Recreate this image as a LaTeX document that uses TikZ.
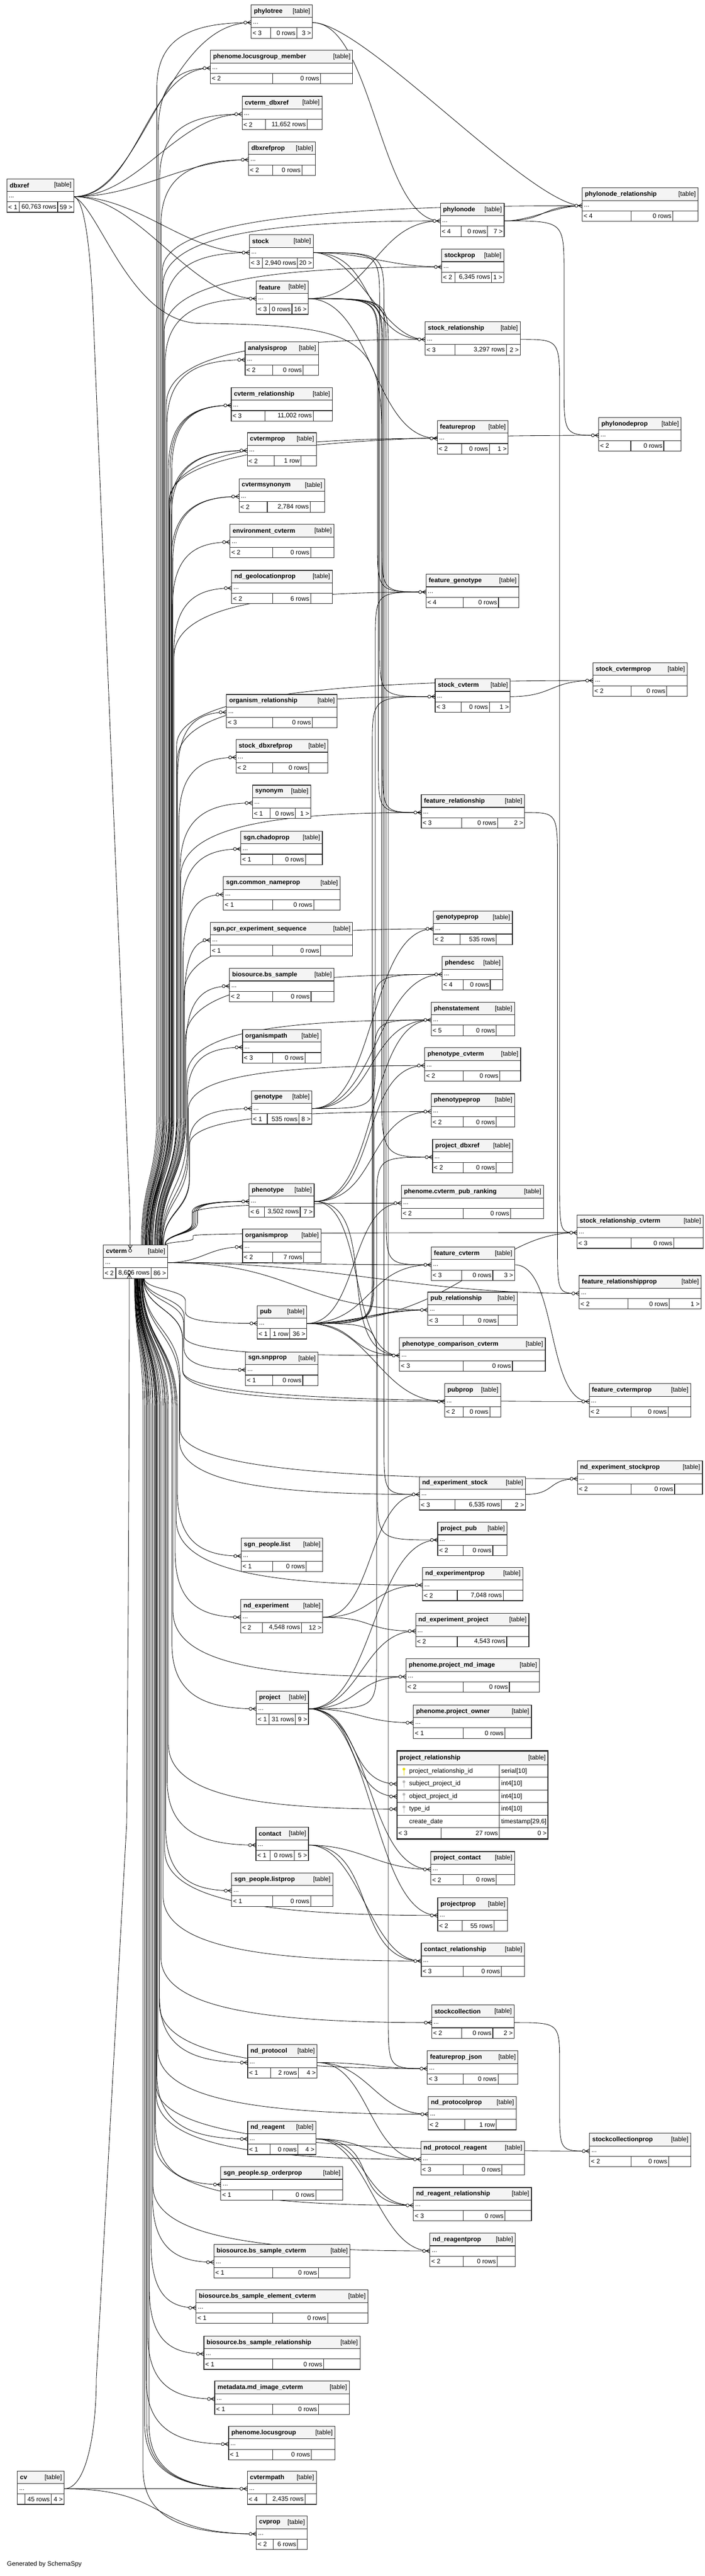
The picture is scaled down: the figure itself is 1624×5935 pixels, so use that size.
\documentclass[tikz,border=0pt]{standalone}
\usepackage{fontspec}
\setmainfont{Liberation Sans}
\usetikzlibrary{calc}
\definecolor{headgray}{HTML}{F4F4F4}
\definecolor{pkyellow}{HTML}{E6DC00}
\definecolor{fkgray}{HTML}{B8B8B8}
\pgfdeclarelayer{background}
\pgfdeclarelayer{edges}
\pgfsetlayers{background,edges,main}
\tikzset{
  fkline/.style={draw=black, line width=0.75pt},
  tblbox/.style={draw=black!85, line width=1pt},
  tbltitle/.style={anchor=west, inner sep=0pt, font=\fontsize{11}{13}\selectfont\bfseries},
  tbltag/.style={anchor=east, inner sep=0pt, font=\fontsize{11}{13}\selectfont},
  tbltext/.style={anchor=west, inner sep=0pt, font=\fontsize{11}{13}\selectfont},
  crowfoot/.pic={
    \draw[fkline] (-17,0) -- (0,0) (-9,0) -- (0,-5) (-9,0) -- (0,5);
    \filldraw[fkline, fill=white] (-13.5,0) circle (3.5);
  },
  crowdown/.pic={
    \draw[fkline] (0,-17) -- (0,0) (0,-9) -- (-5,0) (0,-9) -- (5,0);
    \filldraw[fkline, fill=white] (0,-13.5) circle (3.5);
  },
  crowup/.pic={
    \draw[fkline] (0,17) -- (0,0) (0,9) -- (-5,0) (0,9) -- (5,0);
    \filldraw[fkline, fill=white] (0,13.5) circle (3.5);
  },
}
% table box: id, left, top, right, title, first split, second split, {footer cells}
\newcommand\dbtable[8]{%
  \def\tbid{#1}\def\tbx{#2}\def\tby{#3}\def\tbr{#4}\def\tbt{#7}%
  \filldraw[tblbox, fill=headgray] (#2,#3) rectangle (#4,{#3+29});
  \filldraw[tblbox, fill=white] (#2,{#3+29}) rectangle (#4,{#3+53});
  \filldraw[tblbox, fill=white] (#2,{#3+53}) rectangle (#4,{#3+77});
  \draw[tblbox] (#6,{#3+53}) -- (#6,{#3+77}) (#7,{#3+53}) -- (#7,{#3+77});
  \node[tbltitle] (#1) at ({#2+6},{#3+15}) {#5};
  \node[tbltag] (#1-tag) at ({#4-5},{#3+15}) {[table]};
  \node[tbltext] (#1-cols) at ({#2+4},{#3+43}) {...};
  \coordinate (#1-in) at (#2,{#3+41});
  \coordinate (#1-out) at (#4,{#3+41});
  \dbfoot#8%
}
\newcommand\dbfoot[3]{%
  \node[tbltext] (\tbid-lt) at ({\tbx+3},{\tby+65}) {#1};
  \node[tbltext, anchor=east] (\tbid-rows) at ({\tbt-3},{\tby+65}) {#2};
  \node[tbltext, anchor=east] (\tbid-gt) at ({\tbr-3},{\tby+65}) {#3};
}
% connector that runs down (or up) a free lane: parent, child, lane x, parent y, child y
\newcommand\route[5]{%
  \pgfmathsetmacro\rs{(#5>#4) ? 1 : -1}%
  \pgfmathsetmacro\rd{min(120,abs(#5-#4)/3)}%
  \draw[fkline] (#1-out) .. controls (#3,#4) and (#3,#4) .. (#3,{#4+\rs*\rd}) -- (#3,{#5-\rs*\rd}) .. controls (#3,#5) and (#3,#5) .. (#2-in);
}
\begin{document}
\begin{tikzpicture}[x=0.75pt,y=0.75pt,yscale=-1,xscale=1]
\useasboundingbox (0,0) rectangle (1624,5935);
\begin{pgfonlayer}{background}
\fill[white] (0,0) rectangle (1624,5935);
\end{pgfonlayer}

% Tables
\dbtable{phylotree}{579}{11}{720}{phylotree}{624}{684}{{< 3}{0 rows}{3 >}}
\dbtable{locusgroupmember}{485}{116}{813}{phenome.locusgroup\_member}{629}{739}{{< 2}{0 rows}{}}
\dbtable{cvtermdbxref}{558}{222}{742}{cvterm\_dbxref}{612}{708}{{< 2}{11,652 rows}{}}
\dbtable{dbxrefprop}{573}{327}{727}{dbxrefprop}{629}{696}{{< 2}{0 rows}{}}
\dbtable{dbxref}{16}{412}{170}{dbxref}{45}{133}{{< 1}{60,763 rows}{59 >}}
\dbtable{phylonoderel}{1342}{433}{1609}{phylonode\_relationship}{1455}{1551}{{< 4}{0 rows}{}}
\dbtable{phylonode}{1015}{468}{1162}{phylonode}{1063}{1124}{{< 4}{0 rows}{7 >}}
\dbtable{stock}{575}{541}{722}{stock}{605}{686}{{< 3}{2,940 rows}{20 >}}
\dbtable{stockprop}{1018}{574}{1161}{stockprop}{1049}{1133}{{< 2}{6,345 rows}{1 >}}
\dbtable{feature}{591}{647}{710}{feature}{621}{673}{{< 3}{0 rows}{16 >}}
\dbtable{stockrel}{980}{741}{1199}{stock\_relationship}{1049}{1167}{{< 3}{3,297 rows}{2 >}}
\dbtable{analysisprop}{565}{788}{734}{analysisprop}{629}{699}{{< 2}{0 rows}{}}
\dbtable{cvtermrel}{533}{893}{766}{cvterm\_relationship}{611}{722}{{< 3}{11,002 rows}{}}
\dbtable{featureprop}{1008}{969}{1171}{featureprop}{1064}{1128}{{< 2}{0 rows}{1 >}}
\dbtable{phylonodeprop}{1380}{962}{1570}{phylonodeprop}{1454}{1530}{{< 2}{0 rows}{}}
\dbtable{cvtermprop}{570}{997}{729}{cvtermprop}{632}{694}{{< 2}{1 row}{}}
\dbtable{cvtermsynonym}{551}{1103}{748}{cvtermsynonym}{616}{715}{{< 2}{2,784 rows}{}}
\dbtable{envcvterm}{530}{1208}{770}{environment\_cvterm}{629}{716}{{< 2}{0 rows}{}}
\dbtable{ndgeolocprop}{534}{1314}{766}{nd\_geolocationprop}{629}{716}{{< 2}{6 rows}{}}
\dbtable{featgenotype}{982}{1323}{1196}{feature\_genotype}{1068}{1149}{{< 4}{0 rows}{}}
\dbtable{stockcvtermprop}{1367}{1527}{1584}{stock\_cvtermprop}{1455}{1537}{{< 2}{0 rows}{}}
\dbtable{stockcvterm}{1003}{1564}{1176}{stock\_cvterm}{1063}{1128}{{< 3}{0 rows}{1 >}}
\dbtable{organismrel}{522}{1600}{777}{organism\_relationship}{629}{720}{{< 3}{0 rows}{}}
\dbtable{stockdbxrefprop}{544}{1704}{756}{stock\_dbxrefprop}{629}{712}{{< 2}{0 rows}{}}
\dbtable{synonym}{582}{1809}{716}{synonym}{623}{681}{{< 1}{0 rows}{1 >}}
\dbtable{featurerel}{971}{1831}{1209}{feature\_relationship}{1064}{1147}{{< 3}{0 rows}{2 >}}
\dbtable{chadoprop}{555}{1915}{743}{sgn.chadoprop}{629}{704}{{< 1}{0 rows}{}}
\dbtable{commonnameprop}{515}{2020}{784}{sgn.common\_nameprop}{629}{723}{{< 1}{0 rows}{}}
\dbtable{genotypeprop}{999}{2099}{1181}{genotypeprop}{1061}{1144}{{< 2}{535 rows}{}}
\dbtable{pcrexpseq}{485}{2125}{813}{sgn.pcr\_experiment\_sequence}{629}{739}{{< 1}{0 rows}{}}
\dbtable{phendesc}{1019}{2204}{1159}{phendesc}{1068}{1130}{{< 4}{0 rows}{}}
\dbtable{bssample}{529}{2231}{770}{biosource.bs\_sample}{629}{717}{{< 2}{0 rows}{}}
\dbtable{phenstatement}{994}{2309}{1186}{phenstatement}{1068}{1144}{{< 5}{0 rows}{}}
\dbtable{organismpath}{559}{2372}{740}{organismpath}{629}{703}{{< 3}{0 rows}{}}
\dbtable{phenotypecvterm}{979}{2414}{1200}{phenotype\_cvterm}{1068}{1152}{{< 2}{0 rows}{}}
\dbtable{genotype}{580}{2513}{719}{genotype}{616}{689}{{< 1}{535 rows}{8 >}}
\dbtable{phenotypeprop}{994}{2520}{1186}{phenotypeprop}{1068}{1144}{{< 2}{0 rows}{}}
\dbtable{projectdbxref}{997}{2625}{1182}{project\_dbxref}{1068}{1144}{{< 2}{0 rows}{}}
\dbtable{phenotype}{574}{2727}{724}{phenotype}{609}{692}{{< 6}{3,502 rows}{7 >}}
\dbtable{cvtermpubranking}{925}{2731}{1253}{phenome.cvterm\_pub\_ranking}{1068}{1177}{{< 2}{0 rows}{}}
\dbtable{stockrelcvterm}{1330}{2799}{1621}{stock\_relationship\_cvterm}{1455}{1553}{{< 3}{0 rows}{}}
\dbtable{organismprop}{559}{2832}{740}{organismprop}{629}{700}{{< 2}{7 rows}{}}
\dbtable{cvterm}{238}{2868}{386}{cvterm}{267}{348}{{< 2}{8,626 rows}{86 >}}
\dbtable{featurecvterm}{994}{2873}{1186}{feature\_cvterm}{1064}{1136}{{< 3}{0 rows}{3 >}}
\dbtable{featurerelprop}{1335}{2939}{1616}{feature\_relationshipprop}{1448}{1543}{{< 2}{0 rows}{1 >}}
\dbtable{pubrel}{986}{2977}{1192}{pub\_relationship}{1068}{1148}{{< 3}{0 rows}{}}
\dbtable{pub}{593}{3008}{707}{pub}{623}{668}{{< 1}{1 row}{36 >}}
\dbtable{phenocompcvterm}{921}{3082}{1257}{phenotype\_comparison\_cvterm}{1068}{1181}{{< 3}{0 rows}{}}
\dbtable{snpprop}{566}{3115}{733}{sgn.snpprop}{629}{698}{{< 1}{0 rows}{}}
\dbtable{pubprop}{1025}{3188}{1154}{pubprop}{1068}{1129}{{< 2}{0 rows}{}}
\dbtable{featurecvtermprop}{1358}{3188}{1592}{feature\_cvtermprop}{1455}{1540}{{< 2}{0 rows}{}}
\dbtable{ndexpstockprop}{1331}{3366}{1619}{nd\_experiment\_stockprop}{1455}{1555}{{< 2}{0 rows}{}}
\dbtable{ndexpstock}{967}{3402}{1211}{nd\_experiment\_stock}{1049}{1156}{{< 3}{6,535 rows}{2 >}}
\dbtable{projectpub}{1009}{3507}{1169}{project\_pub}{1068}{1136}{{< 2}{0 rows}{}}
\dbtable{peoplelist}{556}{3544}{744}{sgn\_people.list}{629}{706}{{< 1}{0 rows}{}}
\dbtable{ndexpprop}{974}{3611}{1205}{nd\_experimentprop}{1054}{1160}{{< 2}{7,048 rows}{}}
\dbtable{ndexperiment}{555}{3685}{744}{nd\_experiment}{605}{695}{{< 2}{4,548 rows}{12 >}}
\dbtable{ndexpproject}{958}{3717}{1219}{nd\_experiment\_project}{1054}{1168}{{< 2}{4,543 rows}{}}
\dbtable{projectmdimage}{936}{3822}{1243}{phenome.project\_md\_image}{1068}{1174}{{< 2}{0 rows}{}}
\dbtable{project}{591}{3896}{711}{project}{620}{681}{{< 1}{31 rows}{9 >}}
\dbtable{projectowner}{953}{3928}{1225}{phenome.project\_owner}{1068}{1164}{{< 1}{0 rows}{}}
\dbtable{contact}{590}{4210}{711}{contact}{623}{678}{{< 1}{0 rows}{5 >}}
\dbtable{projectcontact}{993}{4266}{1186}{project\_contact}{1068}{1144}{{< 2}{0 rows}{}}
\dbtable{listprop}{534}{4315}{767}{sgn\_people.listprop}{629}{716}{{< 1}{0 rows}{}}
\dbtable{projectprop}{1009}{4372}{1170}{projectprop}{1065}{1139}{{< 2}{55 rows}{}}
\dbtable{contactrel}{971}{4477}{1209}{contact\_relationship}{1068}{1156}{{< 3}{0 rows}{}}
\dbtable{stockcollection}{995}{4619}{1185}{stockcollection}{1064}{1136}{{< 2}{0 rows}{2 >}}
\dbtable{ndprotocol}{571}{4711}{731}{nd\_protocol}{624}{688}{{< 1}{2 rows}{4 >}}
\dbtable{featurepropjson}{985}{4725}{1194}{featureprop\_json}{1068}{1148}{{< 3}{0 rows}{}}
\dbtable{ndprotocolprop}{987}{4830}{1190}{nd\_protocolprop}{1071}{1144}{{< 2}{1 row}{}}
\dbtable{ndreagent}{571}{4887}{728}{nd\_reagent}{623}{687}{{< 1}{0 rows}{4 >}}
\dbtable{stockcollectionprop}{1359}{4915}{1592}{stockcollectionprop}{1455}{1541}{{< 2}{0 rows}{}}
\dbtable{ndprotocolreagent}{970}{4934}{1209}{nd\_protocol\_reagent}{1068}{1157}{{< 3}{0 rows}{}}
\dbtable{sporderprop}{509}{4992}{790}{sgn\_people.sp\_orderprop}{629}{728}{{< 1}{0 rows}{}}
\dbtable{ndreagentrel}{953}{5040}{1225}{nd\_reagent\_relationship}{1068}{1164}{{< 3}{0 rows}{}}
\dbtable{ndreagentprop}{991}{5145}{1188}{nd\_reagentprop}{1068}{1146}{{< 2}{0 rows}{}}
\dbtable{bssamplecvterm}{493}{5171}{807}{biosource.bs\_sample\_cvterm}{629}{734}{{< 1}{0 rows}{}}
\dbtable{bssampleelemcvterm}{452}{5276}{848}{biosource.bs\_sample\_element\_cvterm}{629}{755}{{< 1}{0 rows}{}}
\dbtable{bssamplerel}{470}{5382}{830}{biosource.bs\_sample\_relationship}{629}{746}{{< 1}{0 rows}{}}
\dbtable{mdimagecvterm}{495}{5486}{805}{metadata.md\_image\_cvterm}{629}{734}{{< 1}{0 rows}{}}
\dbtable{locusgroup}{527}{5590}{772}{phenome.locusgroup}{629}{718}{{< 1}{0 rows}{}}
\dbtable{cv}{40}{5693}{148}{cv}{58}{118}{{}{45 rows}{4 >}}
\dbtable{cvtermpath}{570}{5693}{729}{cvtermpath}{614}{703}{{< 4}{2,435 rows}{}}
\dbtable{cvprop}{591}{5797}{708}{cvprop}{630}{686}{{< 2}{6 rows}{}}

% project_relationship is shown with its columns
\filldraw[tblbox, fill=headgray] (915,4034) rectangle (1263,4066);
\node[tbltitle] (projectrel) at (921,4050) {project\_relationship};
\node[tbltag] (projectrel-tag) at (1258,4050) {[table]};
\foreach \col/\typ [count=\i from 0] in {project\_relationship\_id/serial[10], subject\_project\_id/int4[10], object\_project\_id/int4[10], type\_id/int4[10], create\_date/{timestamp[29,6]}}{
  \filldraw[tblbox, fill=white] (915,{4066+29*\i}) rectangle (1151,{4095+29*\i});
  \filldraw[tblbox, fill=white] (1151,{4066+29*\i}) rectangle (1263,{4095+29*\i});
  \node[tbltext] (prcol-\i) at (943,{4081+29*\i}) {\col};
  \node[tbltext] (prtyp-\i) at (1155,{4081+29*\i}) {\typ};
}
\fill[pkyellow] (931,4076) circle (3.2);
\draw[pkyellow, line width=1.4pt] (931,4076) -- (931,4090);
\foreach \i in {1,2,3}{
  \fill[fkgray] (931,{4076+29*\i}) circle (3.2);
  \draw[fkgray, line width=1.4pt] (931,{4076+29*\i}) -- (931,{4090+29*\i});
}
\filldraw[tblbox, fill=white] (915,4211) rectangle (1263,4237);
\draw[tblbox] (1017,4211) -- (1017,4237) (1151,4211) -- (1151,4237);
\node[tbltext] (projectrel-lt) at (918,4224) {< 3};
\node[tbltext, anchor=east] (projectrel-rows) at (1148,4224) {27 rows};
\node[tbltext, anchor=east] (projectrel-gt) at (1260,4224) {0 >};
\draw[black!85, line width=2pt] (915,4034) rectangle (1263,4237);
\coordinate (projrelsubj-in) at (915,4110);
\coordinate (projrelobj-in) at (915,4139);
\coordinate (prtype-in) at (915,4168);

% Text Node
\node[tbltext] (credit) at (16,5908) {Generated by SchemaSpy};

% ends of the cvterm bundles
\coordinate (cvterm-top) at (312,2868);
\coordinate (cvterm-bot) at (312,2945);
\coordinate (cvterm-dbx) at (300,2868);
\coordinate (cvterm-cv) at (298,2945);

% crow feet on the child side
\foreach \t in {phylotree,locusgroupmember,cvtermdbxref,dbxrefprop,phylonoderel,phylonode,stock,stockprop,feature,stockrel,analysisprop,cvtermrel,featureprop,phylonodeprop,cvtermprop,cvtermsynonym,envcvterm,ndgeolocprop,featgenotype,stockcvtermprop,stockcvterm,organismrel,stockdbxrefprop,synonym,featurerel,chadoprop,commonnameprop,genotypeprop,pcrexpseq,phendesc,bssample,phenstatement,organismpath,phenotypecvterm,genotype,phenotypeprop,projectdbxref,phenotype,cvtermpubranking,stockrelcvterm,organismprop,featurecvterm,featurerelprop,pubrel,pub,phenocompcvterm,snpprop,pubprop,featurecvtermprop,ndexpstockprop,ndexpstock,projectpub,peoplelist,ndexpprop,ndexperiment,ndexpproject,projectmdimage,project,projectowner,contact,projectcontact,listprop,projectprop,contactrel,stockcollection,ndprotocol,featurepropjson,ndprotocolprop,ndreagent,stockcollectionprop,ndprotocolreagent,sporderprop,ndreagentrel,ndreagentprop,bssamplecvterm,bssampleelemcvterm,bssamplerel,mdimagecvterm,locusgroup,cvtermpath,cvprop,projrelsubj,projrelobj,prtype}
  \pic at (\t-in) {crowfoot};
\pic at (cvterm-dbx) {crowdown};
\pic at (cvterm-cv) {crowup};

\begin{pgfonlayer}{edges}
% Curve Lines: dbxref
\draw[fkline] (dbxref-out) .. controls +(160,0) and +(-200,0) .. (phylotree-in);
\draw[fkline] (dbxref-out) .. controls +(150,0) and +(-150,0) .. (locusgroupmember-in);
\draw[fkline] (dbxref-out) .. controls +(150,0) and +(-150,0) .. (cvtermdbxref-in);
\draw[fkline] (dbxref-out) .. controls +(150,0) and +(-150,0) .. (dbxrefprop-in);
\draw[fkline] (dbxref-out) .. controls +(150,0) and +(-150,0) .. (stock-in);
\draw[fkline] (dbxref-out) .. controls +(150,0) and +(-150,0) .. (feature-in);
\draw[fkline] (dbxref-out) .. controls (200,460) and (212,620) .. (217,780) -- (299,2780) .. controls (300,2820) and (300,2840) .. (cvterm-dbx);
\draw[fkline] (dbxref-out) .. controls (230,480) and (300,742) .. (460,745) .. controls (820,750) and (880,770) .. (880,1000) -- (880,2546) .. controls (880,2666) and (900,2666) .. (projectdbxref-in);
% Curve Lines: phylotree, phylonode
\draw[fkline] (phylotree-out) .. controls +(140,0) and +(-140,0) .. (phylonode-in);
\draw[fkline] (phylotree-out) .. controls +(120,0) and +(-120,0) .. (phylonoderel-in);
\draw[fkline] (phylonode-out) .. controls +(60,0) and +(-60,0) .. (phylonoderel-in);
\draw[fkline] (phylonode-out) .. controls +(100,0) and +(-100,0) .. (phylonoderel-in);
\route{phylonode}{phylonodeprop}{1300}{509}{1003}
% Curve Lines: stock
\draw[fkline] (stock-out) .. controls +(120,0) and +(-120,0) .. (stockprop-in);
\draw[fkline] (stock-out) .. controls +(100,0) and +(-100,0) .. (stockrel-in);
\draw[fkline] (stock-out) .. controls +(150,0) and +(-150,0) .. (stockrel-in);
\route{stock}{stockcvterm}{875}{582}{1605}
\route{stock}{ndexpstock}{885}{582}{3443}
% Curve Lines: feature
\draw[fkline] (feature-out) .. controls +(150,0) and +(-150,0) .. (phylonode-in);
\draw[fkline] (feature-out) .. controls +(150,0) and +(-150,0) .. (featureprop-in);
\route{feature}{featgenotype}{870}{688}{1364}
\route{feature}{featgenotype}{880}{688}{1364}
\route{feature}{featurerel}{872}{688}{1872}
\route{feature}{featurerel}{882}{688}{1872}
\route{feature}{featurecvterm}{890}{688}{2914}
\route{feature}{featurepropjson}{895}{688}{4766}
% Curve Lines: right hand tables
\route{stockrel}{stockrelcvterm}{1290}{782}{2840}
\draw[fkline] (stockcvterm-out) .. controls +(100,0) and +(-100,0) .. (stockcvtermprop-in);
\route{featurerel}{featurerelprop}{1285}{1872}{2980}
\draw[fkline] (featurecvterm-out) .. controls +(100,0) and +(-100,0) .. (featurecvtermprop-in);
\draw[fkline] (ndexpstock-out) .. controls +(70,0) and +(-70,0) .. (ndexpstockprop-in);
\route{stockcollection}{stockcollectionprop}{1290}{4660}{4956}
% Curve Lines: genotype, phenotype
\draw[fkline] (genotype-out) .. controls +(150,0) and +(-150,0) .. (genotypeprop-in);
\draw[fkline] (genotype-out) .. controls +(150,0) and +(-150,0) .. (phendesc-in);
\draw[fkline] (genotype-out) .. controls +(150,0) and +(-150,0) .. (phenstatement-in);
\route{genotype}{featgenotype}{865}{2554}{1364}
\draw[fkline] (phenotype-out) .. controls +(150,0) and +(-150,0) .. (phenstatement-in);
\draw[fkline] (phenotype-out) .. controls +(150,0) and +(-150,0) .. (phenotypecvterm-in);
\draw[fkline] (phenotype-out) .. controls +(150,0) and +(-150,0) .. (phenotypeprop-in);
\draw[fkline] (phenotype-out) .. controls +(120,0) and +(-120,0) .. (phenocompcvterm-in);
\draw[fkline] (phenotype-out) .. controls +(160,0) and +(-160,0) .. (phenocompcvterm-in);
% Curve Lines: pub
\route{pub}{stockcvterm}{858}{3049}{1605}
\route{pub}{phendesc}{860}{3049}{2245}
\route{pub}{phenstatement}{862}{3049}{2350}
\draw[fkline] (pub-out) .. controls +(120,0) and +(-120,0) .. (cvtermpubranking-in);
\draw[fkline] (pub-out) .. controls +(150,0) and +(-150,0) .. (featurecvterm-in);
\draw[fkline] (pub-out) .. controls +(100,0) and +(-100,0) .. (pubrel-in);
\draw[fkline] (pub-out) .. controls +(140,0) and +(-140,0) .. (pubrel-in);
\draw[fkline] (pub-out) .. controls +(120,0) and +(-120,0) .. (phenocompcvterm-in);
\draw[fkline] (pub-out) .. controls +(150,0) and +(-150,0) .. (pubprop-in);
\draw[fkline] (pub-out) .. controls +(350,0) and +(-200,0) .. (stockrelcvterm-in);
\route{pub}{projectpub}{870}{3049}{3548}
% Curve Lines: nd_experiment, project, contact
\draw[fkline] (ndexperiment-out) .. controls +(120,0) and +(-120,0) .. (ndexpstock-in);
\draw[fkline] (ndexperiment-out) .. controls +(120,0) and +(-120,0) .. (ndexpprop-in);
\draw[fkline] (ndexperiment-out) .. controls +(120,0) and +(-120,0) .. (ndexpproject-in);
\route{project}{projectdbxref}{868}{3937}{2666}
\draw[fkline] (project-out) .. controls +(150,0) and +(-150,0) .. (projectpub-in);
\draw[fkline] (project-out) .. controls +(120,0) and +(-120,0) .. (ndexpproject-in);
\draw[fkline] (project-out) .. controls +(120,0) and +(-120,0) .. (projectmdimage-in);
\draw[fkline] (project-out) .. controls +(120,0) and +(-120,0) .. (projectowner-in);
\draw[fkline] (project-out) .. controls +(120,0) and +(-120,0) .. (projrelsubj-in);
\draw[fkline] (project-out) .. controls +(120,0) and +(-120,0) .. (projrelobj-in);
\draw[fkline] (project-out) .. controls +(150,0) and +(-150,0) .. (projectcontact-in);
\draw[fkline] (project-out) .. controls +(150,0) and +(-150,0) .. (projectprop-in);
\draw[fkline] (contact-out) .. controls +(120,0) and +(-120,0) .. (projectcontact-in);
\draw[fkline] (contact-out) .. controls +(120,0) and +(-120,0) .. (contactrel-in);
\draw[fkline] (contact-out) .. controls +(160,0) and +(-160,0) .. (contactrel-in);
% Curve Lines: nd_protocol, nd_reagent
\draw[fkline] (ndprotocol-out) .. controls +(120,0) and +(-120,0) .. (featurepropjson-in);
\draw[fkline] (ndprotocol-out) .. controls +(120,0) and +(-120,0) .. (ndprotocolprop-in);
\draw[fkline] (ndprotocol-out) .. controls +(120,0) and +(-120,0) .. (ndprotocolreagent-in);
\draw[fkline] (ndreagent-out) .. controls +(120,0) and +(-120,0) .. (ndprotocolreagent-in);
\draw[fkline] (ndreagent-out) .. controls +(120,0) and +(-120,0) .. (ndreagentrel-in);
\draw[fkline] (ndreagent-out) .. controls +(160,0) and +(-160,0) .. (ndreagentrel-in);
\draw[fkline] (ndreagent-out) .. controls +(120,0) and +(-120,0) .. (ndreagentprop-in);
% Curve Lines: cv
\draw[fkline] (cv-out) .. controls (200,5734) and (222,5600) .. (222,5480) -- (292,4200) .. controls (297,3600) and (298,3100) .. (cvterm-cv);
\draw[fkline] (cv-out) -- (cvtermpath-in);
\draw[fkline] (cv-out) .. controls +(250,0) and +(-250,0) .. (cvprop-in);
% Curve Lines: cvterm, side exits
\draw[fkline] (cvterm-out) .. controls +(80,0) and +(-80,0) .. (organismprop-in);
\draw[fkline] (cvterm-out) .. controls +(300,0) and +(-300,0) .. (featurecvterm-in);
\draw[fkline] (cvterm-out) .. controls +(300,0) and +(-300,0) .. (pubrel-in);
\draw[fkline] (cvterm-out) .. controls +(400,0) and +(-400,0) .. (featurerelprop-in);
% Curve Lines: cvterm, bundle going up
\foreach \ch/\chx/\chy/\cho in {phylotree/579/52/0, locusgroupmember/485/157/0, cvtermdbxref/558/263/0, dbxrefprop/573/368/0, phylonoderel/1342/474/0, phylonode/1015/509/0, stock/575/582/0, stockprop/1018/615/0, feature/591/688/0, stockrel/980/782/0, analysisprop/565/829/0, cvtermrel/533/934/0, cvtermrel/533/934/4, cvtermrel/533/934/8, phylonodeprop/1380/1003/0, featureprop/1008/1010/0, cvtermprop/570/1038/0, cvtermprop/570/1038/4, cvtermsynonym/551/1144/0, cvtermsynonym/551/1144/4, envcvterm/530/1249/0, ndgeolocprop/534/1355/0, featgenotype/982/1364/0, stockcvtermprop/1367/1568/0, stockcvterm/1003/1605/0, organismrel/522/1641/0, stockdbxrefprop/544/1745/0, synonym/582/1850/0, featurerel/971/1872/0, chadoprop/555/1956/0, commonnameprop/515/2061/0, genotypeprop/999/2140/0, pcrexpseq/485/2166/0, phendesc/1019/2245/0, bssample/529/2272/0, phenstatement/994/2350/0, organismpath/559/2413/0, phenotypecvterm/979/2455/0, genotype/580/2554/0, phenotypeprop/994/2561/0, phenotype/574/2768/0, phenotype/574/2768/4, phenotype/574/2768/8, phenotype/574/2768/12, cvtermpubranking/925/2772/0, stockrelcvterm/1330/2840/0}{
  \pgfmathsetmacro\xk{360+0.03*\chy+\cho}
  \pgfmathsetmacro\xs{325+0.02*\chy}
  \pgfmathsetmacro\rr{min(150,(2868-\chy)/4)}
  \draw[fkline] ($(cvterm-top)+({\xs-312},0)$) .. controls (\xs,{2868-\rr}) and (\xk,{2868-\rr}) .. (\xk,{2868-2*\rr}) -- (\xk,{\chy+\rr}) .. controls (\xk,{\chy+0.2*\rr}) and ({\chx-0.6*(\chx-\xk)},\chy) .. (\ch-in);
}
% Curve Lines: cvterm, bundle going down
\foreach \ch/\chx/\chy/\cho in {pub/593/3049/0, phenocompcvterm/921/3123/0, snpprop/566/3156/0, pubprop/1025/3229/0, featurecvtermprop/1358/3229/0, ndexpstockprop/1331/3407/0, ndexpstock/967/3443/0, peoplelist/556/3585/0, ndexpprop/974/3652/0, ndexperiment/555/3726/0, projectmdimage/936/3863/0, project/591/3937/0, prtype/915/4168/0, contact/590/4251/0, listprop/534/4356/0, projectprop/1009/4413/0, contactrel/971/4518/0, stockcollection/995/4660/0, ndprotocol/571/4752/0, featurepropjson/985/4766/0, ndprotocolprop/987/4871/0, ndreagent/571/4928/0, stockcollectionprop/1359/4956/0, ndprotocolreagent/970/4975/0, sporderprop/509/5033/0, ndreagentrel/953/5081/0, ndreagentprop/991/5186/0, bssamplecvterm/493/5212/0, bssampleelemcvterm/452/5317/0, bssamplerel/470/5423/0, mdimagecvterm/495/5527/0, locusgroup/527/5631/0, cvtermpath/570/5734/0, cvtermpath/570/5734/5, cvtermpath/570/5734/10, cvprop/591/5838/0}{
  \pgfmathsetmacro\xk{330+0.035*(5830-\chy)+\cho}
  \pgfmathsetmacro\xs{310+0.008*(5830-\chy)}
  \pgfmathsetmacro\rr{min(150,(\chy-2945)/4)}
  \draw[fkline] ($(cvterm-bot)+({\xs-312},0)$) .. controls (\xs,{2945+\rr}) and (\xk,{2945+\rr}) .. (\xk,{2945+2*\rr}) -- (\xk,{\chy-\rr}) .. controls (\xk,{\chy-0.2*\rr}) and ({\chx-0.6*(\chx-\xk)},\chy) .. (\ch-in);
}
\end{pgfonlayer}
\end{tikzpicture}
\end{document}
